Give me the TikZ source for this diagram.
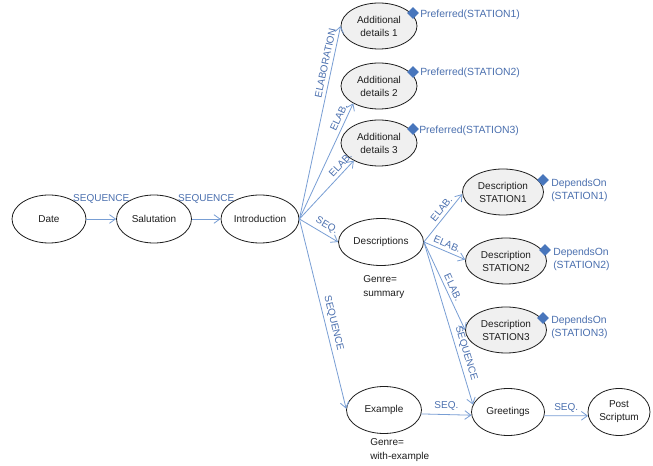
\documentclass[tikz,border=0pt]{standalone}
\usepackage{fontspec}
\setmainfont{Liberation Sans}
\usetikzlibrary{shapes.geometric,arrows.meta}
\definecolor{edgeblue}{RGB}{120,158,212}
\definecolor{lblblue}{RGB}{75,112,175}
\definecolor{diablue}{RGB}{72,118,188}
\definecolor{nodegray}{RGB}{240,240,240}
\definecolor{inkgray}{RGB}{30,30,30}
\begin{document}
\begin{tikzpicture}[x=0.75pt,y=-0.75pt,
  font=\fontsize{7.5}{9.75}\selectfont,
  ell/.style={ellipse,draw=inkgray,line width=0.6pt,inner sep=0pt,align=center,fill=white,text=inkgray},
  gell/.style={ell,fill=nodegray},
  rel/.style={draw=edgeblue,line width=0.6pt,-{Straight Barb[length=4.5pt,width=6.5pt]}},
  lbl/.style={text=lblblue,inner sep=2.5pt},
  dia/.style={diamond,fill=diablue,inner sep=0pt,minimum width=9pt,minimum height=9pt},
  note/.style={text=lblblue,anchor=west,align=left,inner sep=0pt,font=\fontsize{7.8}{9.75}\selectfont},
  genre/.style={text=inkgray,align=left,inner sep=0pt,font=\fontsize{7.5}{11}\selectfont}
]
\fill[white] (0,0) rectangle (653,466);
\useasboundingbox (0,0) rectangle (653,466);

% nodes
\node[ell,minimum width=55.5pt,minimum height=36pt] (date) at (49,219) {Date};
\node[ell,minimum width=56.25pt,minimum height=36pt] (sal) at (154,219) {Salutation};
\node[ell,minimum width=58.5pt,minimum height=36pt] (intro) at (260,219) {Introduction};

\node[gell,minimum width=57pt,minimum height=34.5pt] (ad1) at (379,26) {Additional\\details 1};
\node[gell,minimum width=57pt,minimum height=34.5pt] (ad2) at (379,86) {Additional\\details 2};
\node[gell,minimum width=57pt,minimum height=34.5pt] (ad3) at (379,143) {Additional\\details 3};

\node[ell,minimum width=63.75pt,minimum height=35.25pt] (desc) at (381,242) {Descriptions};
\node[gell,minimum width=60.75pt,minimum height=34.5pt] (ds1) at (503,192) {Description\\STATION1};
\node[gell,minimum width=60.75pt,minimum height=34.5pt] (ds2) at (506,261) {Description\\STATION2};
\node[gell,minimum width=60.75pt,minimum height=34.5pt] (ds3) at (506,330) {Description\\STATION3};

\node[ell,minimum width=56.25pt,minimum height=35.25pt] (ex) at (384,410) {Example};
\node[ell,minimum width=54.75pt,minimum height=35.25pt] (greet) at (508,412) {Greetings};
\node[ell,minimum width=46.5pt,minimum height=35.25pt] (ps) at (619,412) {Post\\Scriptum};

% genre notes
\node[genre,anchor=west] (g1) at (363,287) {Genre=\\summary};
\node[genre,anchor=west] (g2) at (370,450) {Genre=\\with-example};

% diamonds and annotations
\node[dia] (d1) at (413,13) {};
\node[note] (n1) at (420,15) {Preferred(STATION1)};
\node[dia] (d2) at (413,72) {};
\node[note] (n2) at (420,73) {Preferred(STATION2)};
\node[dia] (d3) at (413,129) {};
\node[note] (n3) at (419,131) {Preferred(STATION3)};
\node[dia] (d4) at (543,180) {};
\node[note] (n4) at (551,190) {DependsOn\\(STATION1)};
\node[dia] (d5) at (545,250) {};
\node[note] (n5) at (553,259) {DependsOn\\(STATION2)};
\node[dia] (d6) at (543,318) {};
\node[note] (n6) at (551,327) {DependsOn\\(STATION3)};

% connectors
\draw[rel] (date) -- node[lbl,above=9pt]{SEQUENCE} (sal);
\draw[rel] (sal) -- node[lbl,above=9pt]{SEQUENCE} (intro);

\draw[rel] (intro.east) -- node[lbl,sloped,above,pos=0.8]{ELABORATION} (ad1.west);
\draw[rel] (intro.east) -- node[lbl,sloped,above,pos=0.85]{ELAB.} (ad2.214);
\draw[rel] (intro.east) -- node[lbl,sloped,above,pos=0.85]{ELAB.} (ad3.215);
\draw[rel] (intro.east) -- node[lbl,sloped,above,pos=0.6]{SEQ.} (desc.west);
\draw[rel] (intro.east) -- node[lbl,sloped,above,pos=0.56]{SEQUENCE} (ex.178);

\draw[rel] (desc.east) -- node[lbl,sloped,above,pos=0.6]{ELAB.} (ds1.183);
\draw[rel] (desc.east) -- node[lbl,sloped,above,pos=0.5]{ELAB.} (ds2.178);
\draw[rel] (desc.east) -- node[lbl,sloped,above,pos=0.55]{ELAB.} (ds3.west);
\draw[rel] (desc.east) -- node[lbl,sloped,above,pos=0.7]{SEQUENCE} (greet.168);

\draw[rel] (ex.-6) -- node[lbl,above]{SEQ.} (greet.-175);
\draw[rel] (greet.-6) -- node[lbl,above]{SEQ.} (ps.-173);
\end{tikzpicture}
\end{document}
